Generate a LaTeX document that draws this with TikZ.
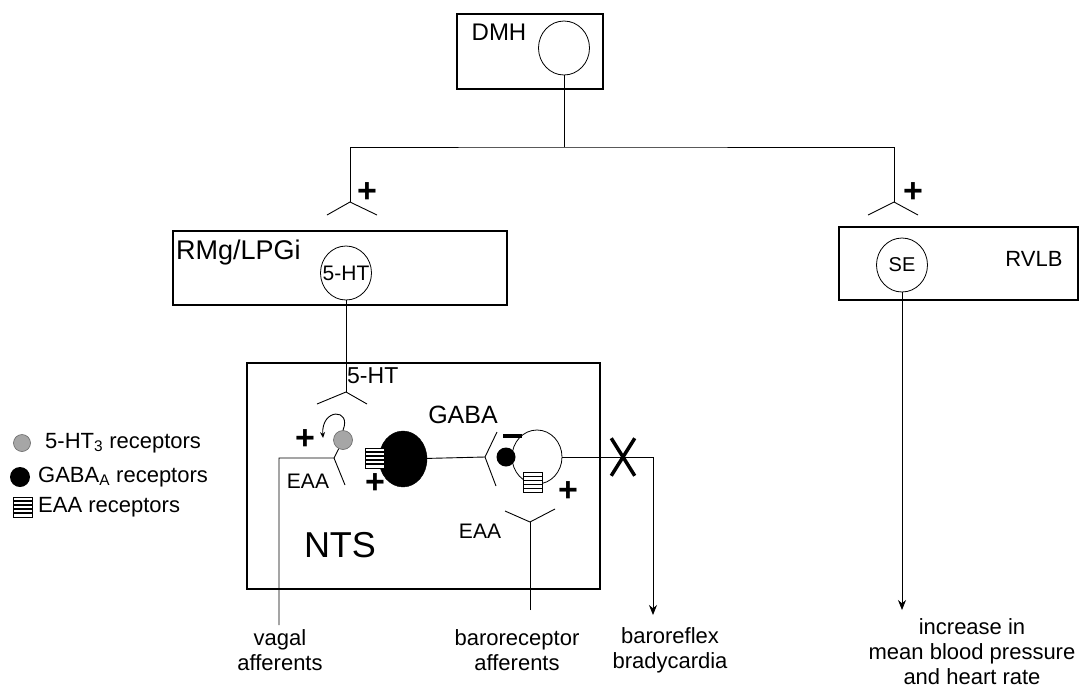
\documentclass[tikz,border=0pt]{standalone}
\usepackage{fontspec}
\setmainfont{Liberation Sans}
\usetikzlibrary{shapes.geometric, shapes.misc, arrows.meta}

\begin{document}
\begin{tikzpicture}[
  x=1pt, y=-1pt,
  lbl/.style={inner sep=0pt, font=\fontsize{22}{25}\selectfont},
  area/.style={draw, line width=1.8pt, inner sep=0pt},
  neuron/.style={draw, ellipse, line width=0.8pt, inner sep=0pt, minimum width=51pt, minimum height=54pt},
  wire/.style={line width=0.9pt},
  arr/.style={wire, -{Stealth[length=10pt, width=8pt]}},
  plussign/.style={inner sep=0pt, font=\fontsize{34}{34}\selectfont\bfseries},
  minussign/.style={fill, inner sep=0pt, minimum width=19pt, minimum height=3.5pt},
  rechti/.style={circle, draw=black!60, fill=black!35, line width=0.6pt, inner sep=0pt, minimum size=19pt},
  recgaba/.style={circle, fill, inner sep=0pt, minimum size=19pt},
  stripes/.style={draw, fill=white, line width=1pt, inner sep=0pt, minimum width=19pt, minimum height=20pt,
    path picture={\foreach \k in {4,8,12,16}
      \draw[line width=1.6pt] ([yshift=\k pt]path picture bounding box.south west) -- ([yshift=\k pt]path picture bounding box.south east);}}
]
\useasboundingbox (0,0) rectangle (1080,689);

% Areas
\node[area, minimum width=146pt, minimum height=75pt] (dmhbox) at (530,51.5) {};
\node[area, minimum width=334pt, minimum height=74pt] (rmg) at (340,268) {};
\node[area, minimum width=239pt, minimum height=73pt] (rvlb) at (958.5,263.5) {};
\node[area, minimum width=353pt, minimum height=226pt] (nts) at (423.5,476) {};

\node[lbl, font=\fontsize{24}{26}\selectfont] (dmhlbl) at (499,32) {DMH};
\node[lbl, font=\fontsize{27}{30}\selectfont, anchor=west] (rmglbl) at (176,253) {RMg/LPGi};
\node[lbl] (rvlblbl) at (1034,259) {RVLB};
\node[lbl, font=\fontsize{36}{40}\selectfont] (ntslbl) at (340,545) {NTS};

% Neurons
\node[neuron] (dmh) at (564,48) {};
\node[neuron] (ht) at (346,273) {};
\node[lbl, font=\fontsize{21}{24}\selectfont] (htlbl) at (ht) {5-HT};
\node[neuron] (se) at (902,265) {};
\node[lbl, font=\fontsize{20}{24}\selectfont] (selbl) at (se) {SE};

% DMH projections
\coordinate (split) at (564,147);
\coordinate (lsyn) at (350,202);
\coordinate (rsyn) at (894,202);
\draw[wire] (dmh) -- (split);
\draw[wire] (lsyn) |- (split) -| (rsyn);
\draw[wire] (lsyn) ++(-23,13) -- (lsyn) -- ++(27,13);
\draw[wire] (rsyn) ++(-26,13) -- (rsyn) -- ++(24,13);
\node[plussign] (lplus) at (367,193) {+};
\node[plussign] (rplus) at (913,193) {+};

% RVLB output
\coordinate (mbp) at (902,610);
\draw[arr] (se) -- (mbp);
\node[lbl, align=center, font=\fontsize{22}{25}\selectfont] (mbplbl) at (972,652) {increase in\\mean blood pressure\\and heart rate};

% 5-HT input to NTS
\coordinate (hsyn) at (346,392);
\draw[wire] (ht) -- (hsyn);
\draw[wire] (hsyn) ++(-29,12) -- (hsyn) -- ++(21,12);
\node[lbl, anchor=west, font=\fontsize{23}{26}\selectfont] (hslbl) at (347,376) {5-HT};

% vagal afferents
\node[rechti] (h3) at (343,440) {};
\coordinate (looptip) at (323,438);
\draw[wire, -{Stealth[length=6pt, width=5pt]}] (h3.north) .. controls (352,408) and (321,408) .. (looptip);
\node[plussign] (vplus) at (305,440) {+};
\coordinate (vag) at (279,625);
\coordinate (vj) at (334,458);
\draw[wire] (vag) |- (vj) -- (h3);
\draw[wire] (vj) -- ++(11,27);
\node[lbl, font=\fontsize{21}{24}\selectfont] (eaa1) at (308,481) {EAA};

% GABA interneuron
\node[draw, ellipse, fill, inner sep=0pt, minimum width=48pt, minimum height=56pt] (gaba) at (403,459) {};
\node[stripes] (s1) at (374.5,458) {};
\node[plussign] (gplus) at (375,484) {+};
\coordinate (gsyn) at (485,457);
\draw[wire] (gaba) -- (gsyn);
\draw[wire] (gsyn) ++(12,-25) -- (gsyn) -- ++(11,29);
\node[lbl, font=\fontsize{25}{28}\selectfont] (gabalbl) at (463,415) {GABA};

% second order neuron
\node[neuron, minimum width=50pt] (pre) at (537,457) {};
\node[recgaba] (gr) at (506,457) {};
\node[minussign] (gminus) at (512,436) {};
\node[stripes] (s2) at (533,482.5) {};
\node[plussign] (eplus) at (568,492) {+};
\coordinate (brady) at (653,615);
\draw[arr] (pre.east) -| (brady);
\node[draw, cross out, line width=3.5pt, inner sep=0pt, minimum width=20pt, minimum height=34pt] (cut) at (623,457) {};

% baroreceptor afferents
\coordinate (esyn) at (530,522);
\coordinate (baro) at (530,610);
\draw[wire] (baro) -- (esyn);
\draw[wire] (esyn) ++(-25,-11) -- (esyn) -- ++(25,-13);
\node[lbl, font=\fontsize{21}{24}\selectfont] (eaa2) at (480,531) {EAA};

% bottom labels
\node[lbl, align=center] (vaglbl) at (280,650) {vagal\\afferents};
\node[lbl, align=center] (barolbl) at (517,650) {baroreceptor\\afferents};
\node[lbl, align=center] (bradylbl) at (670,650) {baroreflex\\bradycardia};

% legend
\node[rechti, minimum size=17pt] (k1) at (22,443) {};
\node[lbl, anchor=west] (k1lbl) at (45,443) {5-HT\textsubscript{3} receptors};
\node[recgaba, minimum size=20pt] (k2) at (20,477) {};
\node[lbl, anchor=west] (k2lbl) at (38,477) {GABA\textsubscript{A} receptors};
\node[stripes] (k3) at (23,507) {};
\node[lbl, anchor=west] (k3lbl) at (38,507) {EAA receptors};

\end{tikzpicture}
\end{document}
